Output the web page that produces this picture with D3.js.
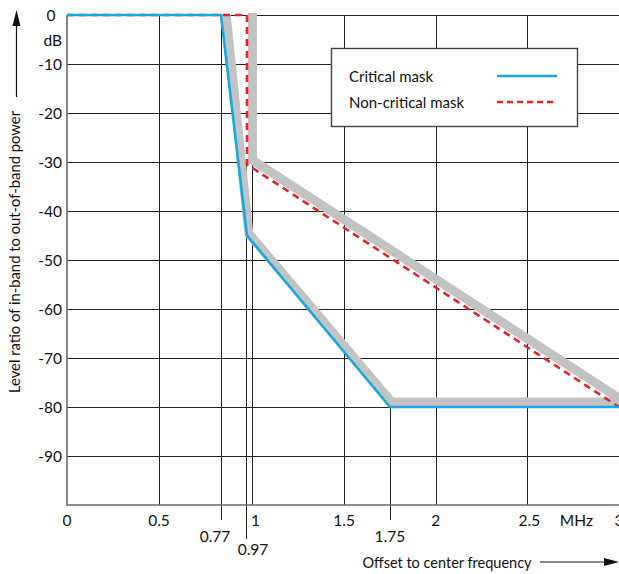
<!DOCTYPE html>
<html>
<head>
<meta charset="utf-8">
<script src="https://cdn.jsdelivr.net/npm/d3@7"></script>
<style>
  body { margin: 0; background: #fff; }
  svg { display: block; font-family: Lato, "Open Sans", sans-serif; }
</style>
</head>
<body>
<svg width="619" height="574"></svg>
<script>
// tick values
var gridFreq = [0.5, 1, 1.5, 2, 2.5];
var freqLabels = [0, 0.5, 1, 1.5, 2, 2.5, 3];
var levelTicks = [-10, -20, -30, -40, -50, -60, -70, -80, -90];

// masks (offset MHz, level dB)
var criticalMask = [
  {f: 0, db: 0}, {f: 0.77, db: 0}, {f: 0.97, db: -45}, {f: 1.75, db: -80}, {f: 3, db: -80}
];
var nonCriticalMask = [
  {f: 0, db: 0}, {f: 0.97, db: 0}, {f: 0.97, db: -30.5}, {f: 3, db: -80}
];
// grey reference bands
var bandCritical = [
  {f: 0.81, db: 0}, {f: 0.98, db: -44.6}, {f: 1.76, db: -79}, {f: 3, db: -79}
];
var bandNonCritical = [
  {f: 1.0, db: 0.4}, {f: 1.0, db: -29.6}, {f: 3, db: -78.2}
];
var legendItems = [
  {name: "Critical mask", color: "#16a8e1", dash: null},
  {name: "Non-critical mask", color: "#ec2229", dash: "6,4"}
];

var svg = d3.select("svg");
var margin = {left: 67, top: 15},
    width = 552,
    height = 490;

// the drawing is not to scale around 0.77 .. 0.97, so use a piecewise scale
var x = d3.scaleLinear()
    .domain([0, 0.5, 0.77, 0.97, 3])
    .range([0, 92, 154, 180, 552]);
var y = d3.scaleLinear().domain([-100, 0]).range([height, 0]);

var g = svg.append("g").attr("transform", "translate(" + margin.left + "," + margin.top + ")");

//////////// GRID ////////////
g.append("g").selectAll("line")
    .data(levelTicks.concat([0]))
    .enter().append("line")
    .attr("x1", 0).attr("x2", width)
    .attr("y1", d => Math.round(y(d)) + 0.5).attr("y2", d => Math.round(y(d)) + 0.5)
    .attr("stroke", "#222").attr("stroke-width", 1);

g.append("g").selectAll("line")
    .data(gridFreq.concat([0.77]))
    .enter().append("line")
    .attr("x1", d => Math.round(x(d)) + 0.5).attr("x2", d => Math.round(x(d)) + 0.5)
    .attr("y1", 0).attr("y2", d => d === 0.77 ? height + 15 : height)
    .attr("stroke", "#222").attr("stroke-width", 1);

// short marker lines for 0.97 and 1.75
g.append("line")
    .attr("x1", Math.round(x(0.97)) - 0.5).attr("x2", Math.round(x(0.97)) - 0.5)
    .attr("y1", y(-30)).attr("y2", height + 34)
    .attr("stroke", "#222");
g.append("line")
    .attr("x1", Math.round(x(1.75)) + 0.5).attr("x2", Math.round(x(1.75)) + 0.5)
    .attr("y1", y(-80)).attr("y2", height + 15)
    .attr("stroke", "#222");

// axes lines
g.append("line").attr("x1", 0).attr("x2", 0).attr("y1", 0).attr("y2", height + 1)
    .attr("stroke", "#6a6a6a").attr("stroke-width", 1.6);
g.append("line").attr("x1", 0).attr("x2", width).attr("y1", height).attr("y2", height)
    .attr("stroke", "#6a6a6a").attr("stroke-width", 1.6);

//////////// MASKS ////////////
var line = d3.line().x(d => x(d.f)).y(d => y(d.db));

[bandCritical, bandNonCritical].forEach(function (band) {
  g.append("path").datum(band)
      .attr("d", line)
      .attr("fill", "none")
      .attr("stroke", "#c3c3c3")
      .attr("stroke-width", 9)
      .attr("stroke-linejoin", "miter");
});

g.append("path").datum(nonCriticalMask)
    .attr("d", line)
    .attr("fill", "none")
    .attr("stroke", legendItems[1].color)
    .attr("stroke-width", 2.6)
    .attr("stroke-dasharray", "7,5");

g.append("path").datum(criticalMask)
    .attr("d", line)
    .attr("fill", "none")
    .attr("stroke", legendItems[0].color)
    .attr("stroke-width", 2.6);

//////////// LABELS ////////////
var tickFont = "15.5px";

g.append("g").selectAll("text")
    .data(levelTicks)
    .enter().append("text")
    .attr("x", -5).attr("y", d => y(d))
    .attr("text-anchor", "end")
    .attr("dominant-baseline", "central")
    .style("font-size", tickFont)
    .attr("fill", "#111")
    .text(d => d);

g.append("text").attr("x", -16).attr("y", y(0))
    .attr("text-anchor", "middle").attr("dominant-baseline", "central")
    .style("font-size", tickFont).attr("fill", "#111").text("0");
g.append("text").attr("x", -5).attr("y", y(0) + 25)
    .attr("text-anchor", "end").attr("dominant-baseline", "central")
    .style("font-size", tickFont).attr("fill", "#111").text("dB");

g.append("g").selectAll("text")
    .data(freqLabels)
    .enter().append("text")
    .attr("x", d => x(d) + (d === 1 ? 3 : d === 2.5 ? 2 : 0))
    .attr("y", height + 15)
    .attr("text-anchor", "middle")
    .attr("dominant-baseline", "central")
    .style("font-size", tickFont)
    .attr("fill", "#111")
    .text(d => d);

var lowTicks = [
  {v: 0.77, dx: -6, dy: 31},
  {v: 0.97, dx: 6, dy: 44},
  {v: 1.75, dx: 0, dy: 31}
];
g.append("g").selectAll("text")
    .data(lowTicks)
    .enter().append("text")
    .attr("x", d => x(d.v) + d.dx)
    .attr("y", d => height + d.dy)
    .attr("text-anchor", "middle")
    .attr("dominant-baseline", "central")
    .style("font-size", tickFont)
    .attr("fill", "#111")
    .text(d => d.v);

g.append("text").attr("x", x(2.5) + 49).attr("y", height + 15)
    .attr("text-anchor", "middle").attr("dominant-baseline", "central")
    .style("font-size", tickFont).attr("fill", "#111").text("MHz");

// axis titles with arrows
svg.append("text")
    .attr("x", 447).attr("y", 562)
    .attr("text-anchor", "middle").attr("dominant-baseline", "central")
    .style("font-size", "14.5px").attr("fill", "#111")
    .text("Offset to center frequency");
svg.append("line").attr("x1", 540).attr("x2", 606).attr("y1", 562).attr("y2", 562)
    .attr("stroke", "#111").attr("stroke-width", 1.2);
svg.append("path").attr("d", "M604,558L619,562L604,566Z").attr("fill", "#111");

svg.append("text")
    .attr("transform", "translate(20,252) rotate(-90)")
    .attr("text-anchor", "middle")
    .style("font-size", "14.8px").attr("fill", "#111")
    .text("Level ratio of in-band to out-of-band power");
svg.append("line").attr("x1", 16.5).attr("x2", 16.5).attr("y1", 97).attr("y2", 24)
    .attr("stroke", "#111").attr("stroke-width", 1.2);
svg.append("path").attr("d", "M12.5,26L16.5,10L20.5,26Z").attr("fill", "#111");

//////////// LEGEND ////////////
var legend = svg.append("g").attr("transform", "translate(331,48)");
legend.append("rect")
    .attr("x", 0.5).attr("y", 0.5).attr("width", 246).attr("height", 78)
    .attr("fill", "#fff").attr("stroke", "#444").attr("stroke-width", 1.4);

var item = legend.selectAll("g.item")
    .data(legendItems)
    .enter().append("g")
    .attr("class", "item")
    .attr("transform", (d, i) => "translate(0," + (28 + i * 26) + ")");
item.append("text")
    .attr("x", 18).attr("y", 0)
    .attr("dominant-baseline", "central")
    .style("font-size", "15px").attr("fill", "#111")
    .text(d => d.name);
item.append("line")
    .attr("x1", 166).attr("x2", 226).attr("y1", 0).attr("y2", 0)
    .attr("stroke", d => d.color)
    .attr("stroke-width", 2.6)
    .attr("stroke-dasharray", d => d.dash);
</script>
</body>
</html>
